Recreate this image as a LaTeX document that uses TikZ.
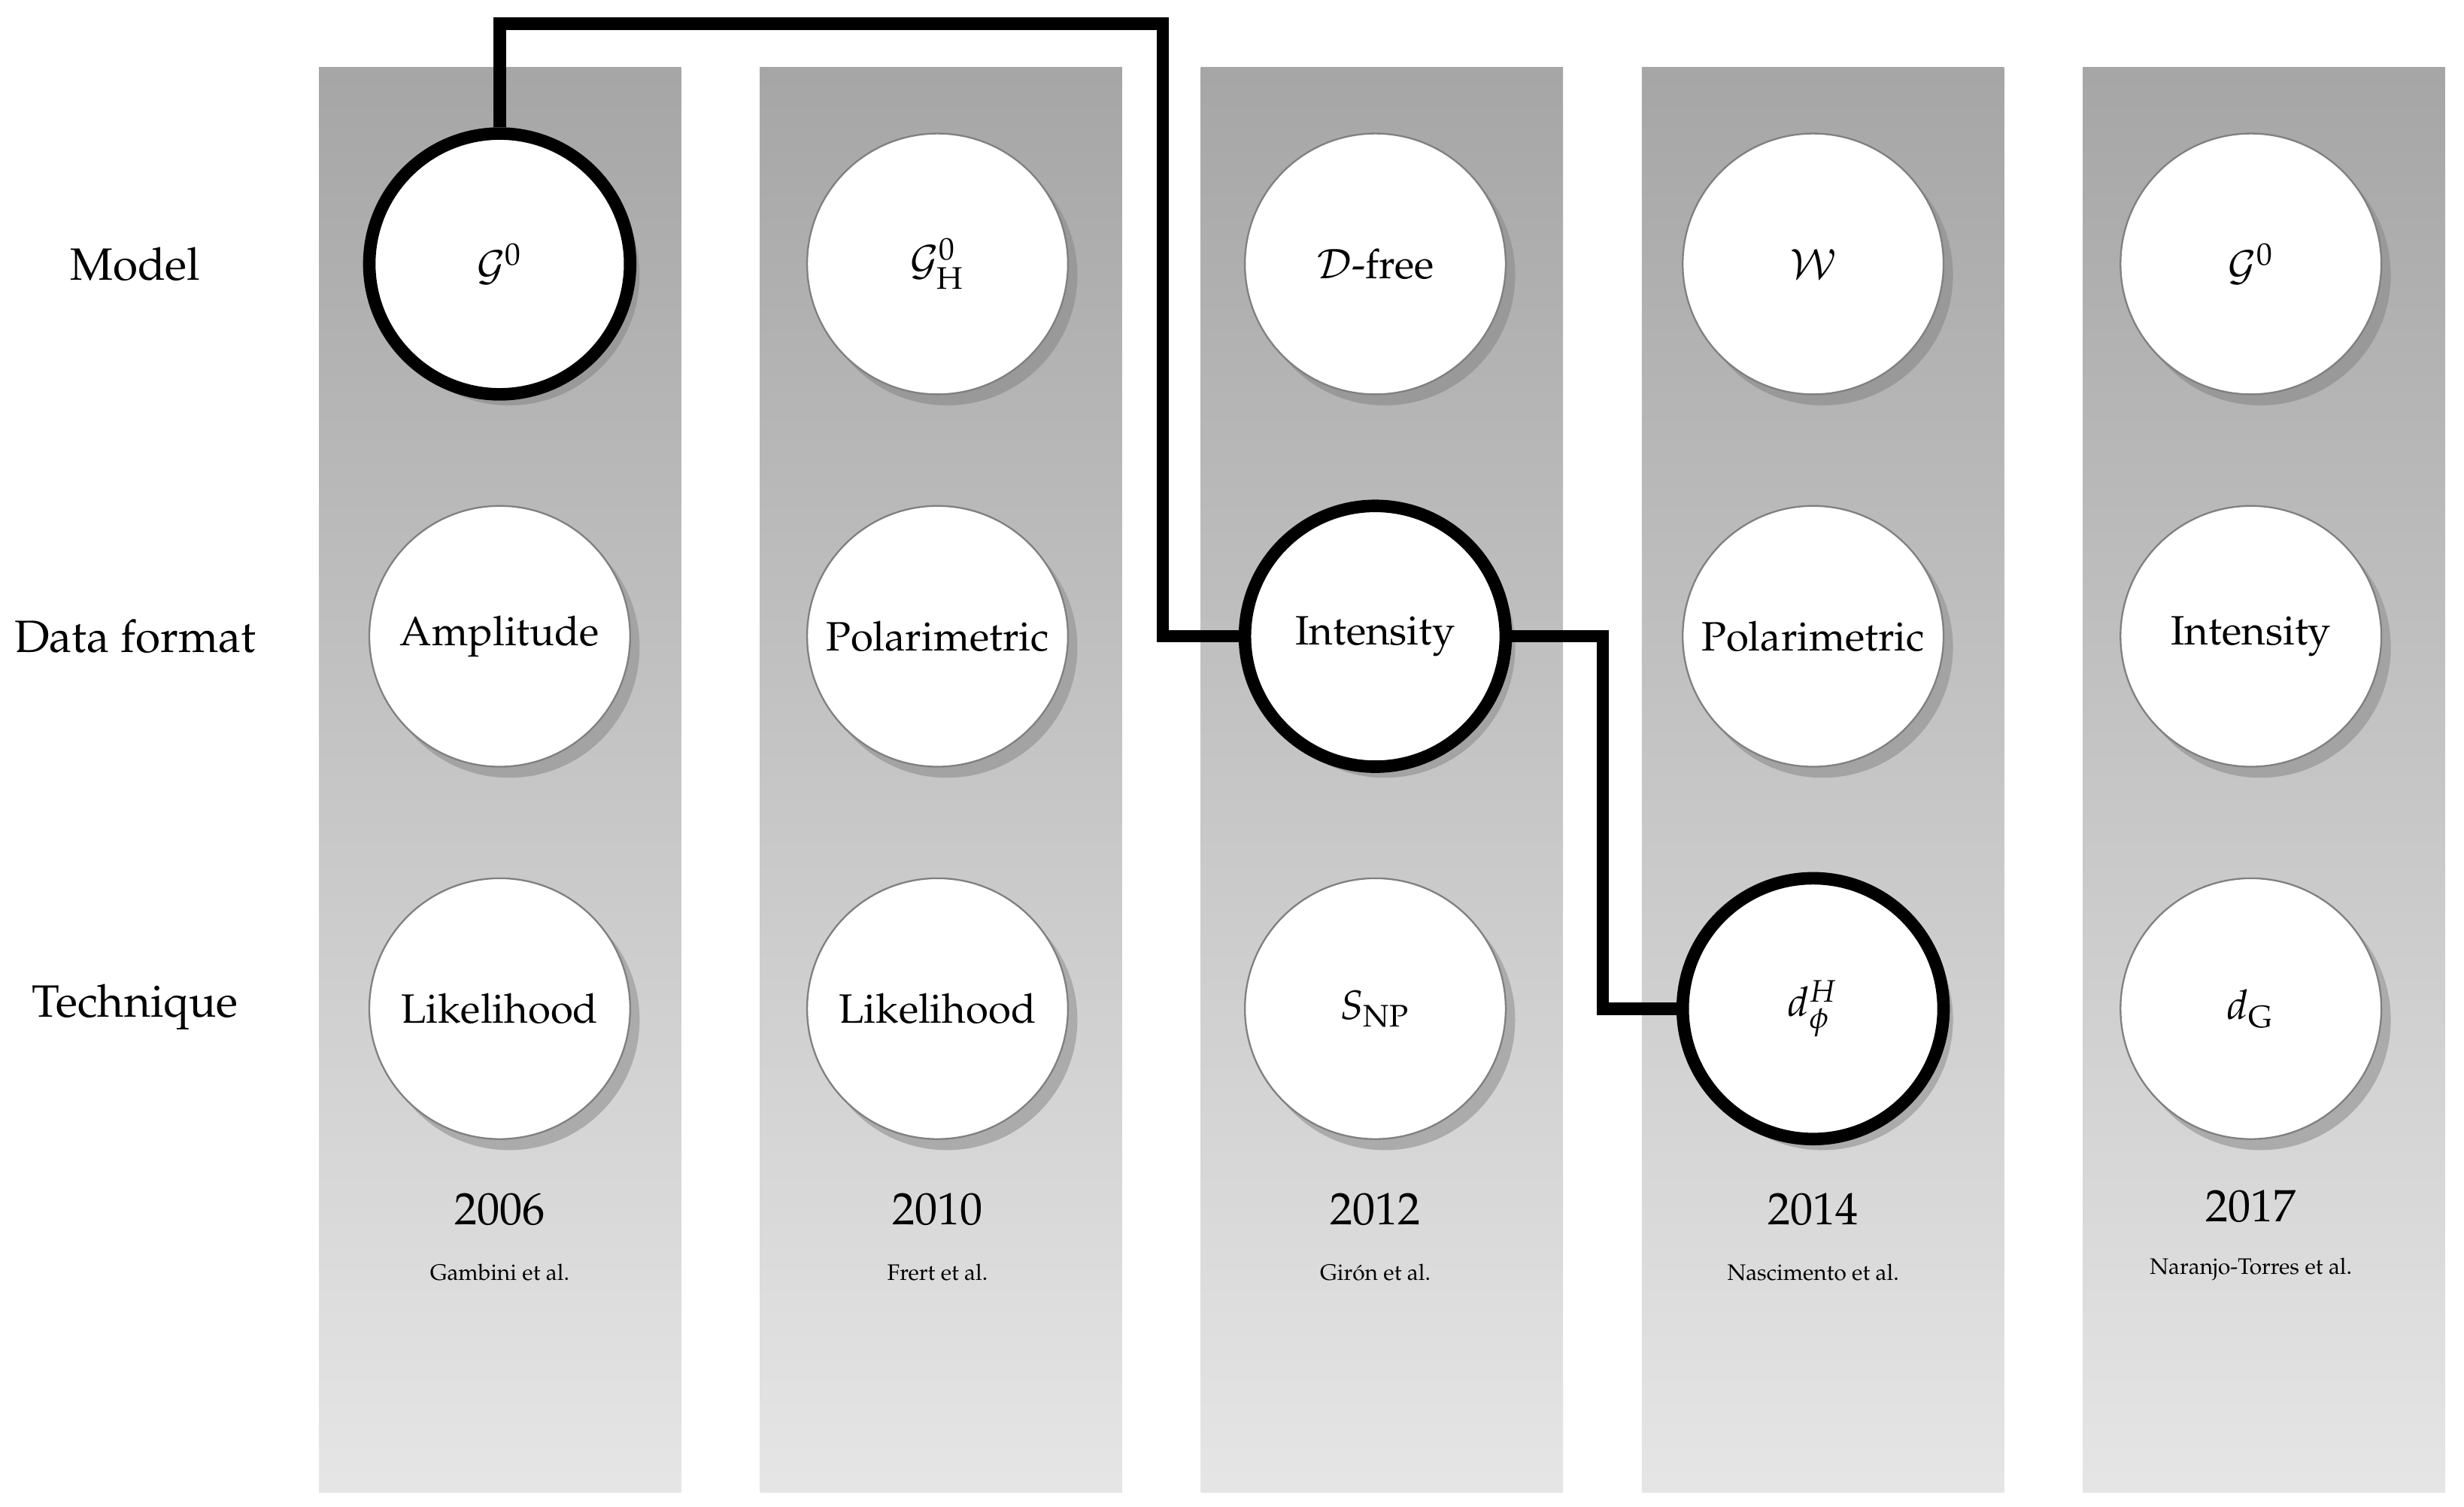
\documentclass[tikz,border=0pt]{standalone}
\usepackage[T1]{fontenc}
\usepackage{mathpazo}
\usetikzlibrary{shadows}
\begin{document}
\begin{tikzpicture}[x=0.0128cm,y=-0.0128cm,
  colbar/.style={top color=black!35, bottom color=black!10, draw=none},
  circ/.style={circle, draw=black!50, line width=0.4pt, fill=white,
    minimum size=2.125cm, inner sep=0pt, font=\fontsize{9.5}{11}\selectfont},
  hl/.style={draw=black, line width=2.9pt},
  shA/.style={drop shadow={shadow xshift=0.077cm, shadow yshift=-0.09cm, fill=black!40, opacity=1}},
  shB/.style={drop shadow={shadow xshift=0.077cm, shadow yshift=-0.09cm, fill=black!36, opacity=1}},
  shC/.style={drop shadow={shadow xshift=0.077cm, shadow yshift=-0.09cm, fill=black!33, opacity=1}},
  rowlab/.style={font=\fontsize{10.5}{12}\selectfont},
  yearlab/.style={font=\fontsize{10.5}{12}\selectfont},
  authlab/.style={font=\fontsize{5.2}{6}\selectfont},
  conn/.style={line width=2.9pt, line join=miter}]
\useasboundingbox (0,0) rectangle (1568,959);
% columns
\foreach \i in {0,...,4} {
  \shade[colbar] ({203+280.6*\i},43) rectangle ({433.5+280.6*\i},950);
}
% row labels
\node[rowlab] (lmodel) at (86,168) {Model};
\node[rowlab] (ldata) at (86,405) {Data format};
\node[rowlab] (ltech) at (86,641) {Technique};
% column 1
\node[circ,shA,hl] (m1) at (318,168) {$\mathcal{G}^0$};
\node[circ,shB] (d1) at (318,405) {Amplitude};
\node[circ,shC] (t1) at (318,642) {Likelihood};
% column 2
\node[circ,shA] (m2) at (596.6,168) {$\mathcal{G}^0_{\mathrm{H}}$};
\node[circ,shB] (d2) at (596.6,405) {Polarimetric};
\node[circ,shC] (t2) at (596.6,642) {Likelihood};
% column 3
\node[circ,shA] (m3) at (875.2,168) {$\mathcal{D}$-free};
\node[circ,shB,hl] (d3) at (875.2,405) {Intensity};
\node[circ,shC] (t3) at (875.2,642) {$S_{\mathrm{NP}}$};
% column 4
\node[circ,shA] (m4) at (1153.8,168) {$\mathcal{W}$};
\node[circ,shB] (d4) at (1153.8,405) {Polarimetric};
\node[circ,shC,hl] (t4) at (1153.8,642) {$d^{H}_{\phi}$};
% column 5
\node[circ,shA] (m5) at (1432.4,168) {$\mathcal{G}^0$};
\node[circ,shB] (d5) at (1432.4,405) {Intensity};
\node[circ,shC] (t5) at (1432.4,642) {$d_{\mathrm{G}}$};
% years and authors
\node[yearlab] (y1) at (318,770) {2006};
\node[yearlab] (y2) at (596.6,770) {2010};
\node[yearlab] (y3) at (875.2,770) {2012};
\node[yearlab] (y4) at (1153.8,770) {2014};
\node[yearlab] (y5) at (1432.4,768) {2017};
\node[authlab] (a1) at (318,810) {Gambini et al.};
\node[authlab] (a2) at (596.6,810) {Frert et al.};
\node[authlab] (a3) at (875.2,810) {Girón et al.};
\node[authlab] (a4) at (1153.8,810) {Nascimento et al.};
\node[authlab] (a5) at (1432.4,808) {Naranjo-Torres et al.};
% connectors
\coordinate (k1) at (740,15);
\coordinate (k2) at (1020,642);
\draw[conn] (m1.north) |- (k1) |- (d3.west);
\draw[conn] (d3.east) -| (k2) -- (t4.west);
\end{tikzpicture}
\end{document}
